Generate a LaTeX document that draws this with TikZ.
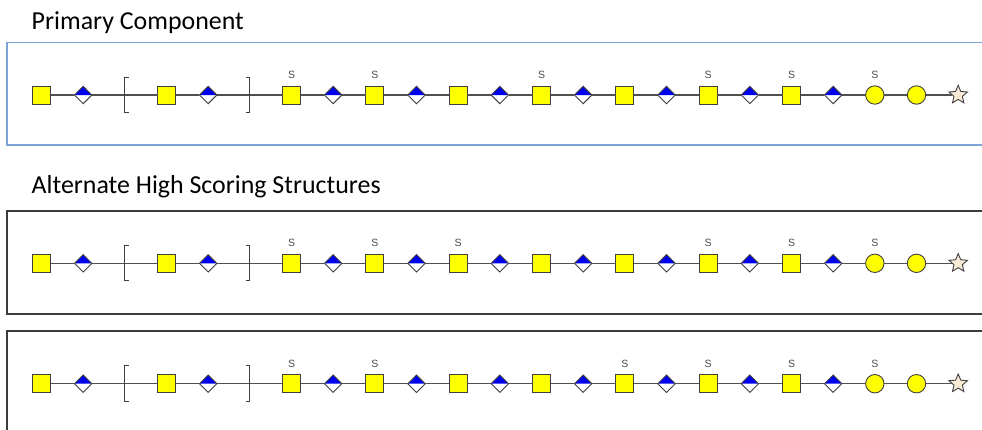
\documentclass[tikz,border=0pt]{standalone}
\usepackage{fontspec}
\setmainfont{Carlito}
\newfontfamily\labfont{Liberation Sans}
\usetikzlibrary{shapes.geometric}
\definecolor{sqyellow}{HTML}{FFFF00}
\definecolor{dblue}{HTML}{0000F0}
\definecolor{starfill}{HTML}{FAEBD7}
\definecolor{edgegray}{HTML}{404040}
\definecolor{linegray}{HTML}{505050}
\definecolor{panelblue}{HTML}{7EA3D5}
\definecolor{paneldark}{HTML}{3C3C3C}
\tikzset{
 glyph/.style={draw=edgegray, line width=0.9pt, inner sep=0pt, outer sep=0pt},
 sq/.style={glyph, rectangle, fill=sqyellow, minimum size=18pt},
 dia/.style={glyph, diamond, fill=white, minimum width=17.4pt, minimum height=17.4pt,
   path picture={\fill[dblue] (path picture bounding box.west) -- (path picture bounding box.north) -- (path picture bounding box.east) -- cycle;}},
 circ/.style={glyph, circle, fill=sqyellow, minimum size=18.4pt},
 st/.style={glyph, star, star points=5, star point ratio=2.2, fill=starfill, minimum size=19.4pt},
 bl/.style={coordinate},
 br/.style={coordinate},
 chain/.style={draw=linegray, line width=1.1pt},
 brk/.style={draw=edgegray, line width=1pt},
 slab/.style={font=\labfont\fontsize{10.5}{11}\selectfont, text=black!70, inner sep=0pt},
 title/.style={font=\fontsize{25.9}{30}\selectfont, anchor=base west, inner sep=0pt},
 panelA/.style={draw=panelblue, line width=1.6pt},
 panelB/.style={draw=paneldark, line width=1.6pt},
}
\newcommand\glycanrow[3]{%
  \foreach \t [count=\i from 0] in {sq,dia,bl,sq,dia,br,sq,dia,sq,dia,sq,dia,sq,dia,sq,dia,sq,dia,sq,dia,circ,circ,st}{%
    \pgfmathsetmacro\xx{41.5+\i*125/3}%
    \node[\t] (#1-\i) at (\xx,#2) {};
  }
  \foreach \i [evaluate=\i as \j using int(\i+1)] in {0,...,21}{%
    \draw[chain] (#1-\i) -- (#1-\j);
  }
  \draw[brk] ([xshift=4pt,yshift=17.8pt]#1-2) -- ([yshift=17.8pt]#1-2) -- ([yshift=-17.6pt]#1-2) -- ([xshift=4pt,yshift=-17.6pt]#1-2);
  \draw[brk] ([xshift=-4pt,yshift=17.8pt]#1-5) -- ([yshift=17.8pt]#1-5) -- ([yshift=-17.6pt]#1-5) -- ([xshift=-4pt,yshift=-17.6pt]#1-5);
  \foreach \k in {#3}{%
    \node[slab, yshift=20pt] (#1-S\k) at (#1-\k.center) {S};
  }
}
\begin{document}
\begin{tikzpicture}[x=1pt,y=-1pt]
\useasboundingbox (0,0) rectangle (982,429);
\clip (0,0) rectangle (982,429);
\node[title] (t1) at (31.5,29.3) {Primary Component};
\node[title] (t2) at (31.5,193) {Alternate High Scoring Structures};
\draw[panelA] (7,42.3) rectangle (995,145);
\draw[panelB] (7,211) rectangle (995,314);
\draw[panelB] (7,331) rectangle (995,445);
\glycanrow{ra}{95}{6,8,12,16,18,20}
\glycanrow{rb}{263.3}{6,8,10,16,18,20}
\glycanrow{rc}{383.7}{6,8,14,16,18,20}
\end{tikzpicture}
\end{document}
